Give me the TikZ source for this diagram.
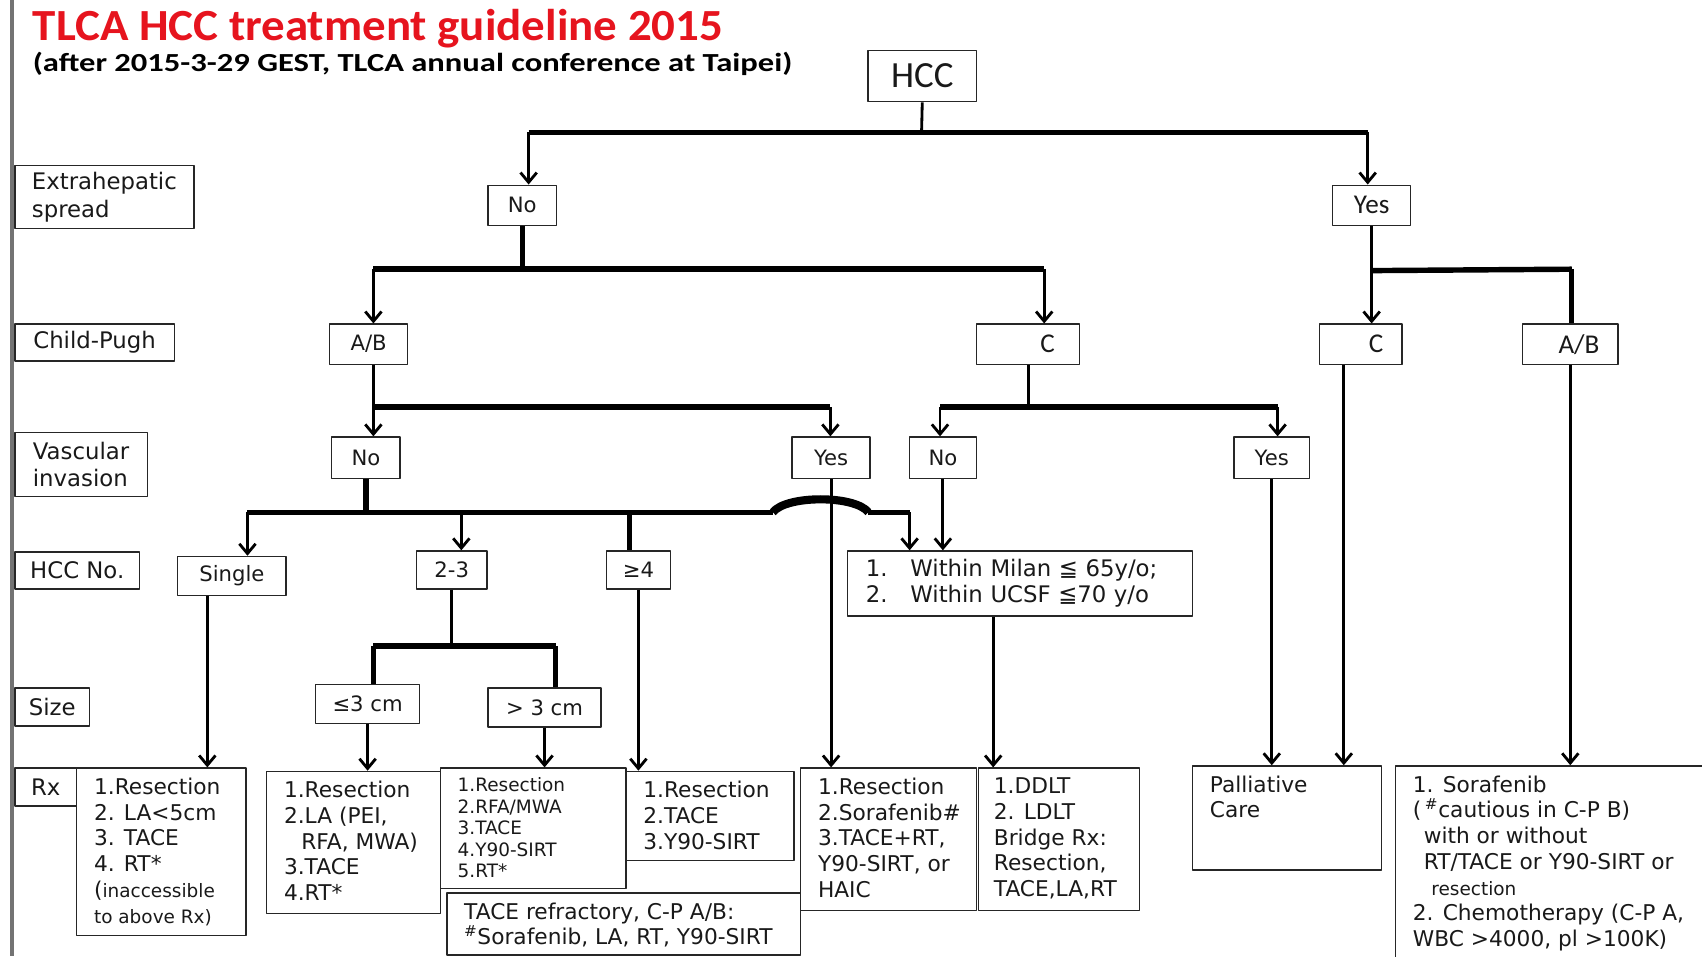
\documentclass[tikz,border=0pt]{standalone}
\usepackage{fontspec}
\setmainfont{DejaVu Sans}
\newfontfamily\calfont{Carlito}
\newfontfamily\titlefont{Carlito}[FakeStretch=1.055]
\newfontfamily\subfont{Carlito}[FakeStretch=1.25]
\usetikzlibrary{arrows.meta}
\definecolor{titlered}{RGB}{230,20,30}
\newcommand{\smtxt}{\fontsize{17}{23.7}\selectfont}
\begin{document}
\begin{tikzpicture}[x=1pt,y=-1pt,>={Straight Barb[length=9pt,width=15pt]},line join=round,
  box/.style={draw=black!85,line width=1.3pt,inner sep=0pt,anchor=north west,text=black!90,font=\fontsize{19.5}{24}\selectfont},
  lbl/.style={box,align=left,font=\fontsize{21}{25}\selectfont},
  cbox/.style={box,font=\calfont\fontsize{25}{28}\selectfont},
  rxbox/.style={box,inner xsep=16pt,inner ysep=9pt,font=\fontsize{20}{23.7}\selectfont},
  conn/.style={line width=2.6pt},
  arr/.style={conn,->},
  bar/.style={line width=5pt}]
\useasboundingbox (0,0) rectangle (1568,881);
\draw[black!55,line width=3pt] (11,0) -- (11,881);
\node[anchor=base west,inner sep=0pt,text=titlered,font=\titlefont\bfseries\fontsize{41}{44}\selectfont] (title) at (30,37) {TLCA HCC treatment guideline 2015};
\node[anchor=base west,inner sep=0pt,font=\subfont\bfseries\fontsize{24}{26}\selectfont] (subtitle) at (30,66) {(after 2015-3-29 GEST, TLCA annual conference at Taipei)};
% row labels
\node[lbl,minimum width=165pt,minimum height=58pt] (rowExt) at (13,152) {Extrahepatic\\spread};
\node[lbl,minimum width=147pt,minimum height=34pt] (rowCP) at (13,298) {Child-Pugh};
\node[lbl,minimum width=122pt,minimum height=59pt] (rowVas) at (13,398) {Vascular\\invasion};
\node[lbl,minimum width=115pt,minimum height=34pt] (rowNum) at (13,508) {HCC No.};
\node[lbl,minimum width=69pt,minimum height=35pt] (rowSize) at (13,633) {Size};
\node[lbl,minimum width=57pt,minimum height=35pt] (rowRx) at (13,707) {Rx};
% decision boxes
\node[cbox,minimum width=100pt,minimum height=47pt,font=\calfont\fontsize{34}{36}\selectfont] (hcc) at (799,46) {HCC};
\node[box,minimum width=63pt,minimum height=37pt] (extNo) at (449,170) {No};
\node[cbox,minimum width=72pt,minimum height=37pt] (extYes) at (1227,170) {Yes};
\node[box,minimum width=72pt,minimum height=37pt] (cpAB) at (303,298) {A/B};
\node[cbox,minimum width=95pt,minimum height=37pt] (cpC) at (899,298) {\hspace*{36pt}C};
\node[cbox,minimum width=76pt,minimum height=37pt] (cpCr) at (1215,298) {\hspace*{28pt}C};
\node[cbox,minimum width=88pt,minimum height=37pt] (cpABr) at (1402,298) {\hspace*{16pt}A/B};
\node[box,minimum width=63pt,minimum height=38pt] (vasNo) at (305,402) {No};
\node[box,minimum width=72pt,minimum height=38pt] (vasYes) at (729,402) {Yes};
\node[box,minimum width=62pt,minimum height=38pt] (vasNoC) at (837,402) {No};
\node[box,minimum width=70pt,minimum height=38pt] (vasYesC) at (1136,402) {Yes};
\node[box,minimum width=100pt,minimum height=36pt] (numOne) at (163,512) {Single};
\node[box,minimum width=65pt,minimum height=35pt] (numTwo) at (383,507) {2-3};
\node[box,minimum width=59pt,minimum height=35pt] (numFour) at (558,507) {≥4};
\node[box,align=left,inner xsep=17pt,text width=284pt,minimum height=60pt,font=\fontsize{21}{24}\selectfont] (milan) at (780,507) {1.\hspace{21pt}Within Milan ≦ 65y/o;\\2.\hspace{21pt}Within UCSF ≦70 y/o};
\node[box,minimum width=96pt,minimum height=36pt] (sizeS) at (290,630) {≤3 cm};
\node[box,minimum width=104pt,minimum height=36pt] (sizeL) at (449,633) {> 3 cm};
% treatment boxes
\node[rxbox] (rxA) at (70,707) {\parbox[c][136pt][t]{124pt}{\raggedright 1.Resection\\2. LA<5cm\\3. TACE\\4. RT*\\(\smtxt inaccessible\\to above Rx)}};
\node[rxbox] (rxB) at (245,710) {\parbox[c][113pt][t]{128pt}{\raggedright 1.Resection\\2.LA (PEI,\\\hspace*{16pt}RFA, MWA)\\3.TACE\\4.RT*}};
\node[rxbox,font=\fontsize{17}{19.8}\selectfont] (rxC) at (405,707) {\parbox[c][93pt][t]{139pt}{\raggedright 1.Resection\\2.RFA/MWA\\3.TACE\\4.Y90-SIRT\\5.RT*}};
\node[rxbox] (rxD) at (576,710) {\parbox[c][64pt][t]{123pt}{\raggedright 1.Resection\\2.TACE\\3.Y90-SIRT}};
\node[rxbox] (rxRef) at (411,822) {\parbox[c][39pt][t]{294pt}{\raggedright TACE refractory, C-P A/B:\\\textsuperscript{\#}Sorafenib, LA, RT, Y90-SIRT}};
\node[rxbox] (rxE) at (737,707) {\parbox[c][113pt][t]{130pt}{\raggedright 1.Resection\\2.Sorafenib\#\\3.TACE+RT,\\Y90-SIRT, or\\HAIC}};
\node[rxbox,inner xsep=14pt] (rxF) at (901,707) {\parbox[c][113pt][t]{120pt}{\raggedright 1.DDLT\\2. LDLT\\Bridge Rx:\\Resection,\\TACE,LA,RT}};
\node[rxbox] (rxG) at (1098,705) {\parbox[c][78pt][t]{142pt}{\raggedright Palliative\\Care}};
\node[rxbox] (rxH) at (1285,705) {\parbox[c][172pt][t]{268pt}{\raggedright 1. Sorafenib\\(\,\textsuperscript{\#}cautious in C-P B)\\\hspace*{10pt}with or without\\\hspace*{10pt}RT/TACE or Y90-SIRT or\\\hspace*{17pt}{\smtxt resection}\\2. Chemotherapy (C-P A,\\WBC >4000, pl >100K)}};
% connectors
\coordinate (jHcc) at (849,122);
\draw[conn] (hcc.south) -- (jHcc);
\draw[bar] (487,122) coordinate (jExtNo) -- (1260,122) coordinate (jExtYes);
\draw[arr] (jExtNo) -- (jExtNo |- extNo.north);
\draw[arr] (jExtYes) -- (jExtYes |- extYes.north);
\draw[bar] (extNo.south) -- ++(0,41) coordinate (jNo);
\draw[bar] (344,248) coordinate (jAB) -- (962,248) coordinate (jC);
\draw[arr] (jAB) -- (jAB |- cpAB.north);
\draw[arr] (jC) -- (jC |- cpC.north);
\draw[conn] (extYes.south) -- ++(0,41) coordinate (jYes);
\draw[bar] (jYes) -- (1448,248) coordinate (jABr);
\draw[arr] (jYes) -- (jYes |- cpCr.north);
\draw[bar] (jABr) -- (jABr |- cpABr.north);
\draw[conn] (jAB |- cpAB.south) -- (344,375) coordinate (jVas);
\draw[bar] (jVas) -- (765,375) coordinate (jVasYes);
\draw[arr] (jVas) -- (jVas |- vasNo.north);
\draw[arr] (jVasYes) -- (jVasYes |- vasYes.north);
\draw[conn] (cpC.south) -- ++(0,40) coordinate (jVasC);
\draw[bar] (866,375) coordinate (jVasNoC) -- (1177,375) coordinate (jVasYesC);
\draw[arr] (jVasNoC) -- (jVasNoC |- vasNoC.north);
\draw[arr] (jVasYesC) -- (jVasYesC |- vasYesC.north);
\draw[bar] (vasNo.south) -- ++(0,32) coordinate (jNum);
\draw[bar] (228,472) coordinate (jSingle) -- (712,472) coordinate (jHumpL);
\draw[line width=7.5pt] (jHumpL) .. controls (724,456) and (788,456) .. (800,472) coordinate (jHumpR);
\draw[bar] (jHumpR) -- (838,472) coordinate (jMilan);
\draw[arr] (jSingle) -- (jSingle |- numOne.north);
\draw[arr] (425,472) coordinate (jTwo) -- (jTwo |- numTwo.north);
\draw[bar] (580,472) coordinate (jFour) -- (jFour |- numFour.north);
\draw[arr] (jMilan) -- (jMilan |- milan.north);
\draw[arr] (vasNoC.south) -- (vasNoC.south |- milan.north);
\draw[conn] (numTwo.south) -- ++(0,53) coordinate (jSize);
\draw[bar] (344,595) coordinate (jSizeS) -- (512,595) coordinate (jSizeL);
\draw[bar] (jSizeS) -- (jSizeS |- sizeS.north);
\draw[bar] (jSizeL) -- (jSizeL |- sizeL.north);
\coordinate (xA) at (191,0);
\coordinate (xF) at (915,0);
\coordinate (xG) at (1238,0);
\draw[arr] (numOne.south -| xA) -- (rxA.north -| xA);
\draw[arr] (sizeS.south) -- (sizeS.south |- rxB.north);
\draw[arr] (sizeL.south) -- (sizeL.south |- rxC.north);
\draw[arr] (numFour.south) -- (numFour.south |- rxD.north);
\draw[arr] (vasYes.south) -- (vasYes.south |- rxE.north);
\draw[arr] (milan.south -| xF) -- (rxF.north -| xF);
\draw[arr] (vasYesC.south) -- (vasYesC.south |- rxG.north);
\draw[arr] (cpCr.south -| xG) -- (rxG.north -| xG);
\draw[arr] (cpABr.south) -- (cpABr.south |- rxH.north);
\end{tikzpicture}
\end{document}
